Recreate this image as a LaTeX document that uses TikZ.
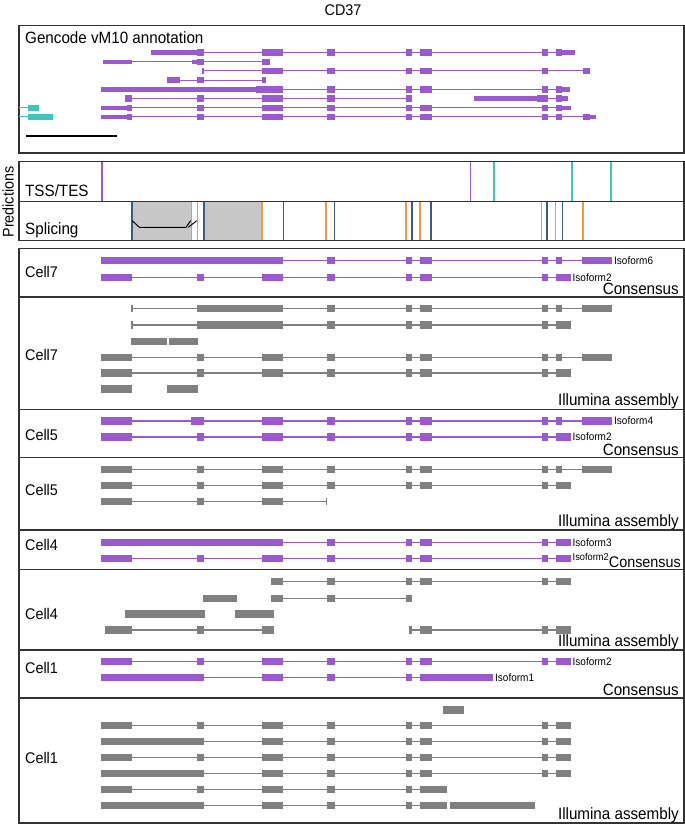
\documentclass[tikz,border=0pt]{standalone}
\usepackage{fontspec}
\setmainfont{Liberation Sans}[FakeStretch=0.93]
\definecolor{iso}{RGB}{155,89,208}
\definecolor{asm}{RGB}{128,128,128}
\definecolor{tes}{RGB}{64,198,180}
\definecolor{don}{RGB}{242,152,64}
\definecolor{acc}{RGB}{62,92,130}
\newcommand{\intron}[4]{\draw[#1,line width=1.2] (#3,#2) -- (#4,#2);}
\newcommand{\exons}[3]{\edef\exlist{#3}%
  \foreach \xa/\xb in \exlist {\fill[#1] (\xa,#2-3.6) rectangle (\xb,#2+3.6);}}
\newcommand{\gexons}[3]{\edef\exlist{#3}%
  \foreach \xa/\xb in \exlist {\fill[#1] (\xa,#2-3.2) rectangle (\xb,#2+3.2);}}
\newcommand{\utrs}[3]{\edef\exlist{#3}%
  \foreach \xa/\xb in \exlist {\fill[#1] (\xa,#2-2.2) rectangle (\xb,#2+2.2);}}
\newcommand{\exhead}{101/132,197/204,262/283}
\newcommand{\excore}{327/335,406/412,420/432,542/548}
\newcommand{\exlong}{556/562,582/612}
\newcommand{\exshort}{556/571}

\begin{document}
\begin{tikzpicture}[x=1bp,y=-1bp]
\tikzstyle{panel}=[draw=black!80, line width=1.1]
\tikzstyle{lbl}=[inner sep=0, font=\fontsize{15.5}{18}\selectfont]
\tikzstyle{biglbl}=[inner sep=0, font=\fontsize{16.4}{19}\selectfont]
\tikzstyle{isolbl}=[inner sep=0, anchor=west, font=\fontsize{10.8}{12}\selectfont]
\useasboundingbox (0,0) rectangle (685,824);
\node[lbl] (title) at (343,10) {CD37};

% annotation
\draw[panel] (19,25.5) rectangle (684,153);
\node[biglbl,anchor=base west] (gencode) at (25,43) {Gencode vM10 annotation};
\intron{iso}{52.5}{151}{575} \utrs{iso}{52.5}{151/197,562/575}
\gexons{iso}{52.5}{197/204,262/283,\excore,556/562}
\intron{iso}{61.7}{103}{270} \utrs{iso}{61.7}{103/132,192/197}
\gexons{iso}{61.7}{197/204,262/270}
\intron{iso}{70.9}{202}{590}
\gexons{iso}{70.9}{202/203.5,262/283,\excore,583/590}
\intron{iso}{80.1}{167}{266}
\gexons{iso}{80.1}{167/180,197/204,262/266}
\intron{iso}{89.3}{101}{570} \utrs{iso}{89.3}{101/256,562/570}
\gexons{iso}{89.3}{256/283,\excore,556/562}
\intron{iso}{98.5}{125}{412}
\gexons{iso}{98.5}{125/132,197/204,262/283,327/335,406/412}
\intron{iso}{98.5}{474}{568} \utrs{iso}{98.5}{474/537,562/568}
\gexons{iso}{98.5}{537/548,556/562}
\intron{tes}{107.7}{19}{28} \gexons{tes}{107.7}{28/38.5}
\intron{iso}{107.7}{101}{571} \utrs{iso}{107.7}{101/127,562/571}
\gexons{iso}{107.7}{127/132,197/204,262/283,\excore,556/562}
\intron{tes}{116.9}{19}{28} \gexons{tes}{116.9}{28/52.5}
\intron{iso}{116.9}{101}{596} \utrs{iso}{116.9}{101/127,590/596}
\gexons{iso}{116.9}{127/132,197/204,262/283,\excore,556/562,583/590}
\draw[line width=1.6] (26,136) -- (117,136);

% predictions
\fill[black!22] (132,201.7) rectangle (191.4,240.7);
\fill[black!22] (204,201.7) rectangle (262,240.7);
\foreach \x in {102,470.5} \draw[iso,line width=1.4] (\x,161.7) -- (\x,201.7);
\foreach \x in {494,572,611} \draw[tes,line width=1.4] (\x,161.7) -- (\x,201.7);
\foreach \x in {191.4,197.5,262,326,406,420,541.7,555.7,583}
  \draw[don,line width=1.4] (\x,201.7) -- (\x,240.7);
\foreach \x in {132,204,283.5,334.6,412,431,547,562.7}
  \draw[acc,line width=1.4] (\x,201.7) -- (\x,240.7);
\draw[line width=1] (132.3,220.7) -- (139.3,227.3) -- (186,227.3) -- (190.7,220.7);
\draw[line width=1] (188.3,227.3) -- (196.7,220.7);
\draw[panel] (19,161.7) rectangle (684,240.7);
\draw[panel] (19,201.7) -- (684,201.7);
\node[lbl,rotate=90] (pred) at (8,202) {Predictions};
\node[biglbl,anchor=base west] (tsslbl) at (25,196.5) {TSS/TES};
\node[biglbl,anchor=base west] (splicelbl) at (25,234.3) {Splicing};

% cells
\foreach \ya/\yb in {248.8/297,297/409.3,409.3/457.7,457.7/530,530/569.5,569.5/650,650/698,698/823}
  \draw[panel] (19,\ya) rectangle (684,\yb);
\foreach \nm/\y/\txt in {c7a/272/Cell7,c7b/355/Cell7,c5a/435/Cell5,c5b/490/Cell5,c4a/545/Cell4,c4b/614/Cell4,c1a/668/Cell1,c1b/758/Cell1}
  \node[lbl,anchor=west] (\nm) at (25,\y) {\txt};
\foreach \nm/\y in {c7cons/294.5,c5cons/455,c1cons/695.3}
  \node[biglbl,anchor=base east] (\nm) at (679,\y) {Consensus};
\node[lbl,anchor=base east] (c4cons) at (681,567.8) {Consensus};
\foreach \nm/\y in {c7ill/405.5,c5ill/526.3,c4ill/646.3,c1ill/819.3}
  \node[biglbl,anchor=base east] (\nm) at (679,\y) {Illumina assembly};

% Cell7 consensus
\intron{iso}{260.7}{101}{612} \exons{iso}{260.7}{101/283,\excore,\exlong}
\node[isolbl] (i6) at (614,260.7) {Isoform6};
\intron{iso}{277.3}{101}{571} \exons{iso}{277.3}{\exhead,\excore,\exshort}
\node[isolbl] (i2a) at (572.5,277.3) {Isoform2};
% Cell7 assembly
\intron{asm}{308.7}{132}{612} \exons{asm}{308.7}{131.3/132.7,197/283,\excore,\exlong}
\intron{asm}{325}{132}{571} \exons{asm}{325}{131.3/132.7,197/283,\excore,\exshort}
\exons{asm}{341.3}{131/166.5,168.6/198.3}
\intron{asm}{357.3}{101}{612} \exons{asm}{357.3}{\exhead,\excore,\exlong}
\intron{asm}{373}{101}{571} \exons{asm}{373}{\exhead,\excore,\exshort}
\exons{asm}{389}{101/132,166.5/198.3}

% Cell5 consensus
\intron{iso}{421}{101}{612} \exons{iso}{421}{101/132,191.4/204,262/283,\excore,\exlong}
\node[isolbl] (i4) at (614,421) {Isoform4};
\intron{iso}{437}{101}{571} \exons{iso}{437}{\exhead,\excore,\exshort}
\node[isolbl] (i2b) at (572.5,437) {Isoform2};
% Cell5 assembly
\intron{asm}{469.7}{101}{612} \exons{asm}{469.7}{\exhead,\excore,\exlong}
\intron{asm}{485.7}{101}{571} \exons{asm}{485.7}{\exhead,\excore,\exshort}
\intron{asm}{501.7}{101}{326.3} \exons{asm}{501.7}{\exhead,325.6/327}

% Cell4 consensus
\intron{iso}{542.7}{101}{571} \exons{iso}{542.7}{101/283,\excore,\exshort}
\node[isolbl] (i3) at (572.5,542.7) {Isoform3};
\intron{iso}{558.3}{101}{571} \exons{iso}{558.3}{\exhead,\excore,\exshort}
\node[isolbl,font=\fontsize{10}{11}\selectfont] (i2c) at (572.5,557.4) {Isoform2};
% Cell4 assembly
\intron{asm}{581.7}{271}{571} \exons{asm}{581.7}{271/283,\excore,\exshort}
\exons{asm}{598.3}{203/237}
\intron{asm}{598.3}{271}{412} \exons{asm}{598.3}{271/283,327/335,406/412}
\exons{asm}{614}{125.4/205,234.6/273.5}
\intron{asm}{630}{105}{273.5} \exons{asm}{630}{105/132,197/204,262/273.5}
\intron{asm}{630}{409}{571} \exons{asm}{630}{409/412,420/432,542/548,\exshort}

% Cell1 consensus
\intron{iso}{661.7}{101}{571} \exons{iso}{661.7}{\exhead,\excore,\exshort}
\node[isolbl] (i2d) at (572.5,661.7) {Isoform2};
\intron{iso}{677.7}{101}{493} \exons{iso}{677.7}{101/204,262/283,327/335,406/412,420/493}
\node[isolbl] (i1) at (495,677.7) {Isoform1};
% Cell1 assembly
\exons{asm}{710}{442.5/464}
\intron{asm}{725.7}{101}{571} \exons{asm}{725.7}{\exhead,\excore,\exshort}
\intron{asm}{741.7}{101}{571} \exons{asm}{741.7}{101/204,262/283,\excore,\exshort}
\intron{asm}{757.7}{101}{571} \exons{asm}{757.7}{\exhead,\excore,\exshort}
\intron{asm}{773.3}{101}{571} \exons{asm}{773.3}{101/204,262/283,\excore,\exshort}
\intron{asm}{789.3}{101}{447} \exons{asm}{789.3}{\exhead,327/335,406/412,420/447}
\intron{asm}{805.7}{101}{447} \exons{asm}{805.7}{101/204,262/283,327/335,406/412,420/447,450/535}
\end{tikzpicture}
\end{document}
